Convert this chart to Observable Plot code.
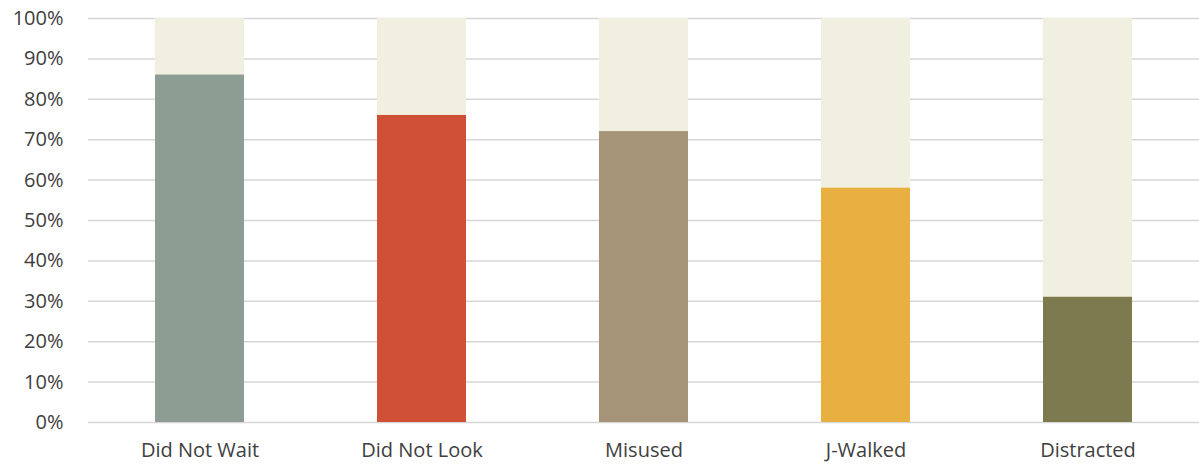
<!DOCTYPE html>
<html>
<head>
<meta charset="utf-8">
<script src="https://cdn.jsdelivr.net/npm/d3@7"></script>
<script src="https://cdn.jsdelivr.net/npm/@observablehq/plot@0.6"></script>
<style>
  html, body { margin: 0; padding: 0; background: #fff; }
  #chart svg { display: block; }
</style>
</head>
<body>
<div id="chart"></div>
<script>
const categories = ["Did Not Wait", "Did Not Look", "Misused", "J-Walked", "Distracted"];
const values = [86, 76, 72, 58, 31];
const colors = ["#8d9d93", "#d04f37", "#a69479", "#e8b040", "#7c7a4e"];
const yTicks = [0, 10, 20, 30, 40, 50, 60, 70, 80, 90, 100];
const totalValue = 100;

const data = categories.map((c, i) => ({category: c, value: values[i], color: colors[i]}));
const bg = categories.map(c => ({category: c, value: totalValue}));

const chart = Plot.plot({
  width: 1199,
  height: 468,
  marginTop: 18,
  marginBottom: 46,
  marginLeft: 88,
  marginRight: 0,
  style: {fontFamily: "'Open Sans', 'Noto Sans', sans-serif", fontSize: "20px", color: "#404040", background: "#fff"},
  x: {domain: categories, paddingInner: 0.6, paddingOuter: 0.3, label: null, tickSize: 0, tickPadding: 20},
  y: {domain: [0, 100], ticks: yTicks, tickFormat: d => d + "%", label: null, tickSize: 0, tickPadding: 25},
  marks: [
    Plot.ruleY(yTicks, {stroke: "#d6d6d6", strokeWidth: 1.5, strokeOpacity: 1}),
    Plot.barY(bg, {x: "category", y: "value", fill: "#f1f0e0"}),
    Plot.barY(data, {x: "category", y: "value", fill: d => d.color})
  ]
});
document.getElementById("chart").appendChild(chart);
</script>
</body>
</html>
